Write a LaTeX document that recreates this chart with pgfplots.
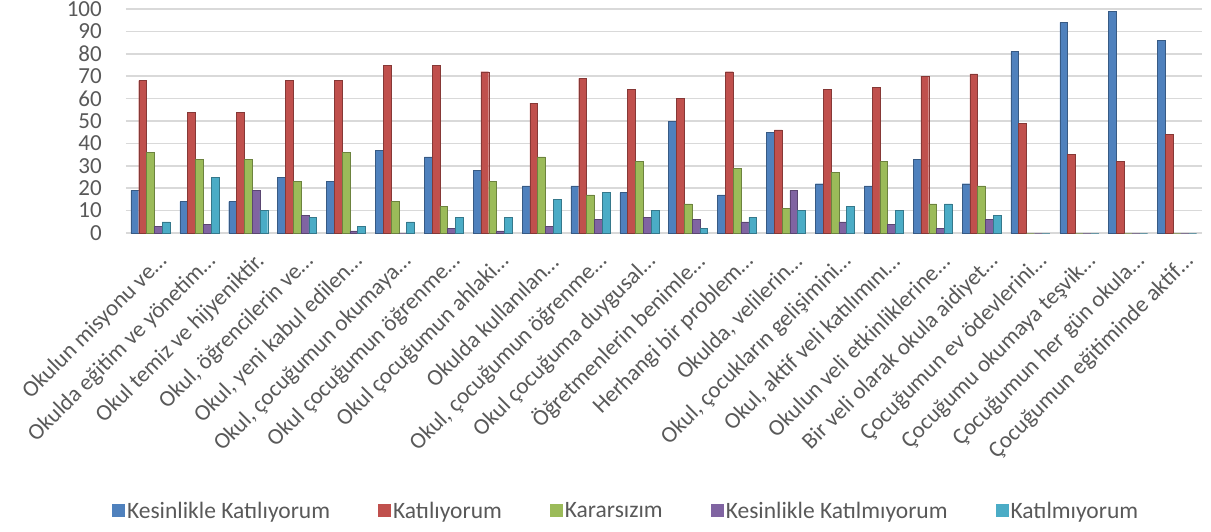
\documentclass[border=0pt]{standalone}
\usepackage{pgfplots}
\pgfplotsset{compat=1.18}
\usepackage{fontspec}
\setmainfont{Carlito}
\definecolor{cBlue}{HTML}{4F81BD}
\definecolor{cRed}{HTML}{C0504D}
\definecolor{cGreen}{HTML}{9BBB59}
\definecolor{cPurple}{HTML}{8064A2}
\definecolor{cAqua}{HTML}{4BACC6}
\definecolor{txt}{HTML}{595959}
\definecolor{gridc}{HTML}{D9D9D9}
\begin{document}
\begin{tikzpicture}[x=1pt,y=1pt]
\path[use as bounding box] (-126,-298) rectangle (1085,233);
\begin{axis}[
  at={(0,0)}, anchor=south west,
  scale only axis, width=1075.5pt, height=224pt,
  xmin=-0.5, xmax=21.5, ymin=0, ymax=100,
  ybar=0pt, bar width=7.8pt,
  axis line style={draw=none},
  tick style={draw=none},
  major tick length=0pt,
  ytick={0,10,...,100},
  ymajorgrids, grid style={gridc, line width=1.6pt},
  xtick={0,...,21},
  xticklabels={{Okulun misyonu ve…},{Okulda eğitim ve yönetim…},{Okul temiz ve hijyeniktir.},{Okul, öğrencilerin ve…},{Okul, yeni kabul edilen…},{Okul, çocuğumun okumaya…},{Okul çocuğumun öğrenme…},{Okul çocuğumun ahlaki…},{Okulda kullanılan…},{Okul, çocuğumun öğrenme…},{Okul çocuğuma duygusal…},{Öğretmenlerin benimle…},{Herhangi bir problem…},{Okulda, velilerin…},{Okul, çocukların gelişimini…},{Okul, aktif veli katılımını…},{Okulun veli etkinliklerine…},{Bir veli olarak okula aidiyet…},{Çocuğumun ev ödevlerini…},{Çocuğumu okumaya teşvik…},{Çocuğumun her gün okula…},{Çocuğumun eğitiminde aktif…}},
  ticklabel style={font=\fontsize{23}{28}\selectfont, text=txt, inner sep=0pt},
  /pgf/number format/assume math mode=true,
  yticklabel style={anchor=east, xshift=-24pt},
  xticklabel style={xshift=13pt, yshift=-25pt, rotate=45, anchor=east},
  legend style={at={(0.465,-1.241)}, anchor=center, draw=none, fill=none,
    font=\fontsize{23.5}{28}\selectfont, text=txt,
    /tikz/every even column/.append style={column sep=46pt}},
  legend columns=-1,
  legend image code/.code={\path[#1, draw=none] (-3pt,-6.5pt) rectangle (10pt,6.5pt);},
]
\addplot[fill=cBlue, draw=cBlue!70!black, line width=0.4pt] coordinates {
(0,19) (1,14) (2,14) (3,25) (4,23) (5,37) (6,34) (7,28) (8,21) (9,21) (10,18)
(11,50) (12,17) (13,45) (14,22) (15,21) (16,33) (17,22) (18,81) (19,94) (20,99) (21,86)};
\addplot[fill=cRed, draw=cRed!70!black, line width=0.4pt] coordinates {
(0,68) (1,54) (2,54) (3,68) (4,68) (5,75) (6,75) (7,72) (8,58) (9,69) (10,64)
(11,60) (12,72) (13,46) (14,64) (15,65) (16,70) (17,71) (18,49) (19,35) (20,32) (21,44)};
\addplot[fill=cGreen, draw=cGreen!70!black, line width=0.4pt] coordinates {
(0,36) (1,33) (2,33) (3,23) (4,36) (5,14) (6,12) (7,23) (8,34) (9,17) (10,32)
(11,13) (12,29) (13,11) (14,27) (15,32) (16,13) (17,21) (18,0) (19,0) (20,0) (21,0)};
\addplot[fill=cPurple, draw=cPurple!70!black, line width=0.4pt] coordinates {
(0,3) (1,4) (2,19) (3,8) (4,1) (5,0) (6,2) (7,1) (8,3) (9,6) (10,7)
(11,6) (12,5) (13,19) (14,5) (15,4) (16,2) (17,6) (18,0) (19,0) (20,0) (21,0)};
\addplot[fill=cAqua, draw=cAqua!70!black, line width=0.4pt] coordinates {
(0,5) (1,25) (2,10) (3,7) (4,3) (5,5) (6,7) (7,7) (8,15) (9,18) (10,10)
(11,2) (12,7) (13,10) (14,12) (15,10) (16,13) (17,8) (18,0) (19,0) (20,0) (21,0)};
\legend{Kesinlikle Katılıyorum, Katılıyorum, Kararsızım, Kesinlikle Katılmıyorum, Katılmıyorum}
\end{axis}
\end{tikzpicture}
\end{document}
